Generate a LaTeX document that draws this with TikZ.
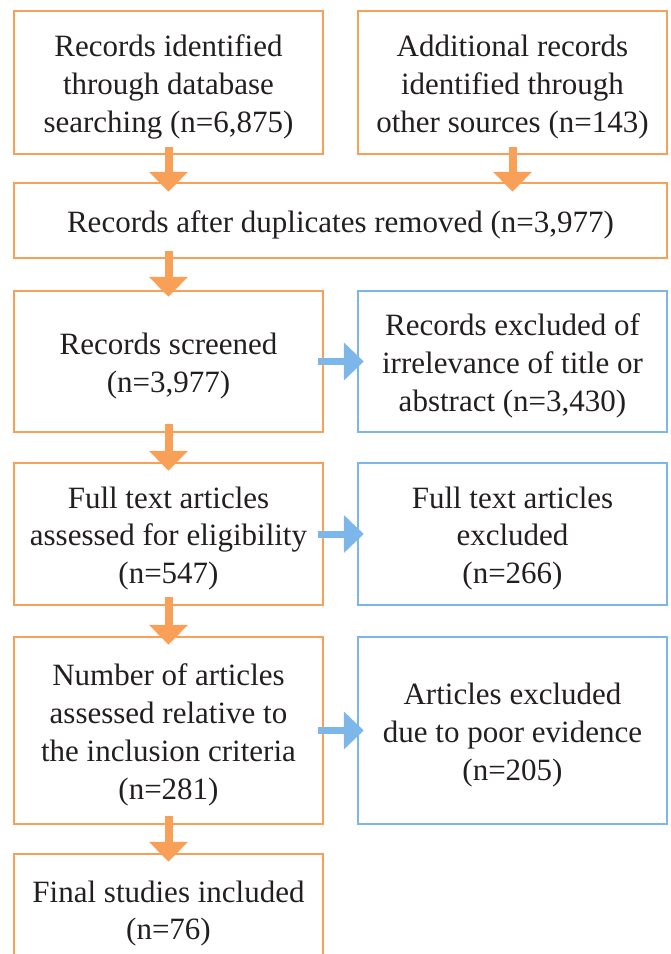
\documentclass[tikz,border=0pt]{standalone}
\usepackage{fontspec}
\setmainfont{Liberation Serif}
\usetikzlibrary{arrows.meta,calc}
\definecolor{orangec}{RGB}{248,160,88}
\definecolor{bluec}{RGB}{125,182,232}
\definecolor{textc}{RGB}{35,31,32}
\begin{document}
\begin{tikzpicture}[x=1pt,y=1pt,
  box/.style={draw=#1, line width=2.5pt, inner sep=0pt},
  obox/.style={box=orangec},
  bbox/.style={box=bluec},
  txt/.style={inner sep=0pt, align=center, text=textc,
    font=\fontsize{31}{37.8}\selectfont},
  oarr/.style={draw=orangec, line width=8pt, -{Triangle[width=38pt,length=20pt]}},
  barr/.style={draw=bluec, line width=7pt, -{Triangle[width=37pt,length=20pt]}}]
\useasboundingbox (0,0) rectangle (670,-954);
\clip (0,0) rectangle (670,-954);
\node[obox, minimum width=309, minimum height=143] (b1) at (168.5,-82.5) {};
\node[obox, minimum width=309, minimum height=143] (b2) at (512.5,-82.5) {};
\node[obox, minimum width=653, minimum height=75] (b3) at (340.5,-220.5) {};
\node[obox, minimum width=309, minimum height=141] (b4) at (168.5,-361.5) {};
\node[bbox, minimum width=309, minimum height=141] (b5) at (512.5,-361.5) {};
\node[obox, minimum width=309, minimum height=142] (b6) at (168.5,-534) {};
\node[bbox, minimum width=309, minimum height=142] (b7) at (512.5,-534) {};
\node[obox, minimum width=309, minimum height=187] (b8) at (168.5,-730.5) {};
\node[bbox, minimum width=309, minimum height=187] (b9) at (512.5,-730.5) {};
\node[obox, minimum width=309, minimum height=110] (b10) at (168.5,-909) {};
\node[txt] (t1) at ([yshift=-4.5]b1.center) {Records identified\\through database\\searching (n=6,875)};
\node[txt] (t2) at ([yshift=-4.5]b2.center) {Additional records\\identified through\\other sources (n=143)};
\node[txt] (t3) at ([yshift=-4.5]b3.center) {Records after duplicates removed (n=3,977)};
\node[txt] (t4) at ([yshift=-4.5]b4.center) {Records screened\\(n=3,977)};
\node[txt] (t5) at ([yshift=-4.5]b5.center) {Records excluded of\\irrelevance of title or\\abstract (n=3,430)};
\node[txt] (t6) at ([yshift=-4.5]b6.center) {Full text articles\\assessed for eligibility\\(n=547)};
\node[txt] (t7) at ([yshift=-4.5]b7.center) {Full text articles\\excluded\\(n=266)};
\node[txt] (t8) at ([yshift=-4.5]b8.center) {Number of articles\\assessed relative to\\the inclusion criteria\\(n=281)};
\node[txt] (t9) at ([yshift=-4.5]b9.center) {Articles excluded\\due to poor evidence\\(n=205)};
\node[txt] (t10) at ([yshift=-4.5]b10.center) {Final studies included\\(n=76)};
\draw[oarr] ([yshift=8]b1.south) -- ($(b1.south |- b3.north)+(0,-10)$);
\draw[oarr] ([yshift=8]b2.south) -- ($(b2.south |- b3.north)+(0,-10)$);
\draw[oarr] ($(b4.north |- b3.south)+(0,8)$) -- ([yshift=-7]b4.north);
\draw[oarr] ([yshift=9]b4.south) -- ([yshift=-9]b6.north);
\draw[oarr] ([yshift=9]b6.south) -- ([yshift=-9]b8.north);
\draw[oarr] ([yshift=9]b8.south) -- ([yshift=-9]b10.north);
\draw[barr] ([xshift=-6]b4.east) -- ([xshift=7]b5.west);
\draw[barr] ([xshift=-6]b6.east) -- ([xshift=7]b7.west);
\draw[barr] ([xshift=-6]b8.east) -- ([xshift=7]b9.west);
\end{tikzpicture}
\end{document}
